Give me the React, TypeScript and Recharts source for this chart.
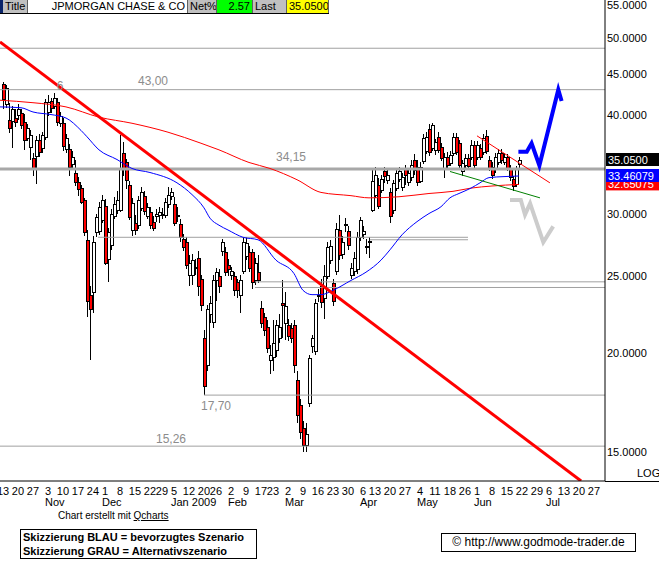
import React from 'react'
import {
  ComposedChart,
  Bar,
  Line,
  XAxis,
  YAxis,
  ReferenceLine,
  ReferenceDot,
} from 'recharts'

// daily candles, index 0 = 13 Oct 2008 (trading days only)
const opens = [
  43.7, 41.2, 39.4, 39.3, 39.6, 39.9, 40.2, 39.2, 37.4, 36.4, 35.3, 35.5, 37.2, 36.3, 37.5, 40.3, 41.6, 41.0, 41.5, 39.0,
  39.0, 36.2, 36.2, 34.6, 33.8, 32.9, 32.3, 31.2, 27.8, 23.7, 23.9, 28.4, 28.5, 29.4, 30.7, 26.3, 27.4, 29.8, 30.3, 30.3,
  35.8, 34.8, 32.6, 28.6, 29.2, 29.0, 30.5, 31.6, 29.8, 30.1, 29.3, 29.8, 29.9, 30.0, 29.9, 30.8, 31.6, 30.8, 29.8, 29.1,
  27.9, 27.6, 25.1, 25.1, 25.7, 26.4, 24.8, 20.9, 19.3, 22.4, 21.9, 24.7, 25.0, 26.9, 26.8, 25.8, 25.1, 25.0, 24.6, 23.7,
  25.4, 26.5, 26.8, 26.8, 24.7, 25.3, 22.8, 22.2, 21.6, 19.6, 19.8, 20.2, 20.9, 23.1, 21.8, 21.7, 21.5, 21.7, 18.5, 17.2,
  16.1, 15.3, 17.3, 20.4, 20.1, 23.6, 24.3, 23.5, 25.0, 26.2, 24.5, 25.4, 28.6, 26.7, 29.1, 28.5, 25.1, 25.4, 25.5, 28.0,
  28.3, 27.3, 27.6, 30.3, 31.7, 32.6, 32.1, 33.9, 33.1, 31.9, 30.3, 32.3, 33.2, 32.4, 34.1, 32.9, 33.4, 35.1, 34.3, 33.0,
  34.9, 36.0, 38.4, 36.3, 36.1, 37.5, 36.4, 34.1, 35.4, 34.7, 35.8, 37.5, 36.8, 33.9, 34.5, 35.3, 35.4, 36.6, 35.4, 36.3,
  35.9, 37.6, 35.1, 34.3, 34.1, 34.8, 35.8, 34.8, 35.4, 34.2, 33.2, 32.7, 34.6,
]
const highs = [
  44.0, 43.6, 41.4, 41.0, 40.6, 41.2, 40.6, 40.1, 38.9, 38.2, 35.8, 37.6, 37.8, 38.0, 41.9, 42.3, 42.0, 42.6, 42.0, 40.3,
  39.6, 37.8, 36.7, 36.0, 35.0, 33.4, 32.6, 31.4, 28.6, 24.3, 28.1, 30.0, 31.0, 31.7, 31.3, 28.8, 30.4, 31.5, 32.0, 37.7,
  36.9, 35.2, 33.0, 31.4, 29.9, 31.6, 32.4, 32.0, 30.9, 30.6, 29.8, 30.4, 30.6, 30.5, 31.4, 32.4, 32.3, 31.5, 30.6, 29.5,
  28.3, 28.0, 26.6, 26.7, 26.3, 26.9, 25.1, 21.4, 23.0, 23.6, 25.1, 25.6, 25.5, 27.9, 27.2, 26.3, 25.7, 25.3, 24.8, 25.1,
  28.0, 28.0, 27.3, 27.1, 26.4, 26.6, 23.3, 22.5, 22.0, 20.5, 22.0, 22.0, 22.4, 24.7, 23.9, 22.1, 21.8, 22.0, 19.0, 17.5,
  16.4, 16.3, 19.9, 21.1, 23.4, 24.1, 24.8, 25.8, 27.6, 27.8, 24.8, 29.2, 29.9, 28.1, 29.6, 28.9, 26.0, 26.8, 28.4, 29.7,
  28.9, 27.9, 28.0, 34.0, 34.3, 33.3, 33.6, 34.3, 34.0, 32.3, 33.1, 34.2, 34.3, 33.8, 34.5, 34.2, 35.1, 35.7, 35.0, 34.8,
  37.8, 38.0, 38.9, 39.0, 37.3, 38.0, 36.8, 35.8, 35.9, 36.0, 37.9, 37.9, 37.1, 35.0, 35.7, 35.7, 37.1, 37.0, 37.0, 36.7,
  37.8, 38.2, 35.5, 34.8, 35.8, 36.2, 36.2, 35.8, 35.7, 34.5, 33.5, 34.4, 35.4,
]
const lows = [
  40.7, 40.8, 37.9, 36.3, 38.6, 39.4, 38.4, 36.1, 37.0, 35.1, 33.5, 32.7, 35.4, 35.8, 37.2, 39.8, 40.2, 40.6, 38.7, 38.6,
  36.0, 35.8, 33.5, 34.0, 32.5, 31.6, 30.8, 28.1, 22.2, 19.6, 22.5, 28.0, 28.2, 29.2, 25.8, 24.6, 27.0, 29.5, 30.0, 30.1,
  33.5, 32.2, 29.4, 28.1, 28.2, 28.7, 30.2, 29.9, 29.5, 28.7, 28.5, 29.3, 29.2, 29.5, 29.6, 30.5, 31.2, 28.9, 29.3, 27.6,
  26.9, 25.5, 24.3, 24.4, 25.1, 23.6, 22.6, 17.7, 19.0, 21.8, 21.5, 23.3, 23.8, 26.5, 25.0, 25.0, 24.7, 23.6, 23.5, 22.5,
  25.2, 26.2, 25.3, 24.1, 24.4, 24.5, 21.5, 21.0, 20.0, 18.8, 19.0, 19.8, 20.6, 20.9, 20.8, 20.7, 20.6, 18.9, 16.3, 15.6,
  15.0, 15.0, 17.1, 20.0, 19.9, 23.2, 22.8, 22.1, 24.8, 25.9, 22.9, 25.1, 26.2, 26.3, 28.4, 27.0, 24.8, 25.0, 25.2, 27.7,
  27.9, 26.7, 26.4, 30.1, 31.4, 30.4, 31.8, 32.8, 32.7, 29.2, 30.0, 32.0, 32.9, 32.0, 32.6, 32.5, 33.0, 33.6, 32.5, 32.8,
  34.6, 35.7, 35.5, 36.0, 35.6, 35.8, 34.9, 33.3, 34.2, 34.4, 35.5, 35.6, 34.2, 33.5, 34.2, 34.0, 35.0, 34.2, 35.0, 35.0,
  35.6, 35.7, 33.9, 33.2, 33.8, 34.5, 34.6, 34.5, 33.9, 33.0, 32.0, 32.4, 34.0,
]
const closes = [
  41.8, 43.2, 38.5, 40.7, 39.1, 40.6, 38.8, 37.2, 38.5, 37.7, 34.1, 37.2, 35.9, 37.7, 41.5, 41.5, 40.8, 42.0, 39.1, 39.8,
  36.5, 37.4, 34.3, 35.4, 32.9, 32.2, 31.0, 28.4, 23.3, 22.7, 27.6, 29.7, 30.6, 31.2, 26.0, 28.4, 30.0, 30.8, 31.2, 34.1,
  34.1, 33.1, 29.7, 30.9, 28.6, 31.2, 31.9, 30.2, 30.6, 29.0, 28.8, 30.0, 30.1, 30.0, 31.0, 31.7, 31.9, 29.2, 29.9, 28.0,
  27.2, 25.8, 26.0, 26.2, 25.6, 24.3, 23.0, 18.2, 22.7, 23.1, 24.7, 25.3, 24.3, 27.6, 25.3, 25.5, 25.4, 24.0, 24.0, 24.7,
  27.6, 27.5, 25.6, 24.6, 26.0, 24.7, 21.8, 21.4, 20.3, 19.9, 20.6, 21.7, 21.6, 23.0, 22.9, 21.0, 20.9, 19.3, 16.7, 15.9,
  15.3, 15.8, 19.7, 20.9, 23.1, 23.7, 23.2, 25.0, 27.2, 27.3, 23.3, 28.7, 26.6, 27.6, 29.0, 27.4, 25.6, 26.4, 28.0, 29.4,
  28.5, 27.3, 27.7, 33.0, 33.6, 30.7, 33.2, 33.5, 33.6, 29.8, 32.8, 33.8, 33.9, 33.4, 33.6, 33.8, 34.5, 34.0, 32.9, 34.3,
  37.4, 37.5, 35.9, 38.8, 36.9, 36.1, 35.3, 35.4, 34.5, 35.6, 37.5, 35.9, 34.5, 34.7, 35.3, 34.4, 36.6, 34.5, 36.6, 35.4,
  37.4, 36.0, 34.2, 33.6, 35.4, 35.8, 35.0, 35.4, 34.2, 33.4, 32.5, 34.17, 35.05,
]

// moving averages (index, price)
const slowMaIdx = [-1, 10, 21, 32, 43, 55, 66, 72, 82, 89, 98, 106, 116, 122, 132, 142, 150, 156, 163, 172]
const slowMaVal = [41.7, 41.4, 40.9, 39.7, 39.0, 38.0, 36.8, 36.1, 34.8, 34.2, 33.1, 31.9, 31.6, 31.4, 31.5, 31.8, 32.0, 32.3, 32.5, 32.65]
const fastMaIdx = [-1, 6, 10, 16, 21, 26, 28, 32, 38, 43, 49, 58, 63, 67, 69, 72, 75, 80, 85, 91, 97, 100, 103, 106, 110, 116, 121, 126, 129, 133, 138, 142, 146, 149, 152, 156, 159, 162, 167, 172]
const fastMaVal = [40.9, 40.8, 40.3, 40.0, 39.6, 38.2, 37.5, 36.1, 35.1, 34.2, 33.8, 32.8, 31.7, 30.5, 29.6, 29.0, 28.6, 28.0, 27.8, 26.2, 25.2, 24.0, 23.7, 23.7, 24.0, 24.7, 25.3, 26.2, 27.0, 28.2, 29.3, 30.0, 30.6, 31.4, 31.8, 32.3, 32.8, 33.3, 33.4, 33.46]

// scenario sketches
const blueIdx = [171.8, 174.6, 176.2, 178.8, 185.1, 186.2]
const blueVal = [35.9, 35.9, 36.8, 34.5, 43.0, 41.6]
const grayIdx = [169, 172.6, 174, 175.7, 180.1, 183.4]
const grayVal = [31.2, 31.2, 29.9, 30.9, 27.6, 28.9]

// horizontal marks
const X_MIN = -1
const X_MAX = 200.67
const levelVal = [48.5, 43.0, 28.0, 27.8, 24.6, 24.2, 17.7, 15.26]
const levelFrom = [X_MIN, X_MIN, 31.7, 122.3, 84, 84, 67, X_MIN]
const levelTo = [X_MAX, X_MAX, 155, 155, X_MAX, X_MAX, X_MAX, X_MAX]
const pivotLevel = 34.15

const labelText = ['43,00', '34,15', '17,70', '15,26', '6']
const labelIdx = [50, 96, 71, 56, 19]
const labelVal = [43.0, 34.15, 17.7, 15.26, 43.0]
const labelDy = [-5, -8, 15, -3, 0]

// trend lines [i1, p1, i2, p2]
const mainTrend = [-1, 49.4, 192.7, 13.79]
const upperTrend = [158, 37.6, 182.3, 32.8]
const lowerTrend = [149, 33.9, 179, 31.4]

// axis
const weekIdx = [0, 5, 10, 15, 20, 25, 30, 34, 39, 44, 49, 53, 57, 62, 67, 71, 76, 81, 86, 90, 95, 100, 105, 110, 115, 120, 124, 129, 134, 139, 144, 149, 154, 158, 163, 168, 173, 178, 182, 187, 192, 197]
const weekDay = ['13', '20', '27', '3', '10', '17', '24', '1', '8', '15', '22', '29', '5', '12', '20', '26', '2', '9', '17', '23', '2', '9', '16', '23', '30', '6', '13', '20', '27', '4', '11', '18', '26', '1', '8', '15', '22', '29', '6', '13', '20', '27']
const monthIdx = [15, 34, 57, 76, 95, 120, 139, 158, 182]
const monthName = ['Nov', 'Dec', 'Jan 2009', 'Feb', 'Mar', 'Apr', 'May', 'Jun', 'Jul']
const priceTicks = [15, 20, 25, 30, 40, 45, 50, 55]

const lastClose = 35.05
const fastLast = 33.46079
const slowLast = 32.65075

const FONT = '"Liberation Sans", Arial, sans-serif'

const candles = closes.map((c, i) => ({
  i,
  o: opens[i],
  h: highs[i],
  l: lows[i],
  c,
  range: [lows[i], highs[i]],
}))
const slowMa = slowMaIdx.map((i, k) => ({ i, v: slowMaVal[k] }))
const fastMa = fastMaIdx.map((i, k) => ({ i, v: fastMaVal[k] }))
const blueSketch = blueIdx.map((i, k) => ({ i, v: blueVal[k] }))
const graySketch = grayIdx.map((i, k) => ({ i, v: grayVal[k] }))

const Candle = (props: any) => {
  const { x, y, width, height, payload } = props
  if (!payload || height == null) return null
  const { o, h, l, c } = payload
  const top = Math.min(y, y + height)
  const hgt = Math.abs(height)
  const lh = Math.log(h)
  const span = lh - Math.log(l) || 1
  const py = (v: number) => top + ((lh - Math.log(v)) / span) * hgt
  const cx = Math.round(x + width / 2)
  const b1 = Math.round(Math.min(py(o), py(c)))
  const b2 = Math.round(Math.max(py(o), py(c)))
  return (
    <g shapeRendering="crispEdges">
      <line x1={cx + 0.5} x2={cx + 0.5} y1={top} y2={top + hgt} stroke="#000" />
      <rect
        x={cx - 0.5}
        y={b1 + 0.5}
        width={3}
        height={Math.max(1, b2 - b1)}
        fill={c < o ? '#ff0000' : '#ffffff'}
        stroke="#000"
      />
    </g>
  )
}

const DateTick = ({ x, y, payload }: any) => {
  const k = weekIdx.indexOf(payload.value)
  const m = monthIdx.indexOf(payload.value)
  return (
    <g fontFamily={FONT} fontSize={11} fill="#000">
      <text x={x} y={y + 14} textAnchor="middle">{weekDay[k]}</text>
      {m >= 0 && (
        <text x={x - 3} y={y + 25} textAnchor="start">{monthName[m]}</text>
      )}
    </g>
  )
}

const PriceTick = ({ x, y, payload }: any) => (
  <text x={x} y={y + 4} fontFamily={FONT} fontSize={11} fill="#000" textAnchor="start">
    {payload.value.toFixed(4)}
  </text>
)

const valueBox = (text: string, bg: string) => (p: any) => (
  <g>
    <rect x={p.cx + 1} y={p.cy - 7} width={54} height={13} fill={bg} />
    <text x={p.cx + 3} y={p.cy + 4} fontFamily={FONT} fontSize={11} fill="#fff">{text}</text>
  </g>
)

const levelLabel = (text: string, dy: number) => (p: any) => (
  <text x={p.cx} y={p.cy + dy} textAnchor="middle" fontFamily={FONT} fontSize={12} fill="#8c8c8c">
    {text}
  </text>
)

const headerCell = (w: number, bg: string, text: string, align: 'left' | 'right') => (
  <div
    style={{
      width: w,
      height: 13,
      background: bg,
      textAlign: align,
      fontSize: 11,
      lineHeight: '13px',
      padding: '0 2px',
      boxSizing: 'border-box',
      borderRight: '1px solid #606060',
      whiteSpace: 'nowrap',
      overflow: 'hidden',
    }}
  >
    {text}
  </div>
)

export default function App() {
  return (
    <div
      style={{
        position: 'absolute',
        left: 0,
        top: 0,
        width: 659,
        height: 563,
        background: '#fff',
        fontFamily: FONT,
        overflow: 'hidden',
      }}
    >
      <ComposedChart
        width={659}
        height={515}
        data={candles}
        margin={{ top: 0, right: 0, bottom: 0, left: 0 }}
      >
        <XAxis
          dataKey="i"
          type="number"
          domain={[X_MIN, X_MAX]}
          allowDataOverflow
          ticks={weekIdx}
          interval={0}
          tick={<DateTick />}
          tickLine={false}
          tickSize={0}
          tickMargin={0}
          height={34}
          axisLine={{ stroke: '#000' }}
        />
        <YAxis
          orientation="right"
          scale="log"
          domain={[13.79, 55.8]}
          allowDataOverflow
          ticks={priceTicks}
          interval={0}
          tick={<PriceTick />}
          tickLine={false}
          tickSize={0}
          tickMargin={2}
          width={54}
          axisLine={{ stroke: '#000' }}
        />

        {levelVal.map((v, k) => (
          <ReferenceLine
            key={'lv' + k}
            segment={[{ x: levelFrom[k], y: v }, { x: levelTo[k], y: v }]}
            stroke="#a0a0a0"
            strokeWidth={1}
            ifOverflow="hidden"
          />
        ))}
        <ReferenceLine y={pivotLevel} stroke="#a8a8a8" strokeWidth={3} ifOverflow="hidden" />

        <Bar dataKey="range" barSize={4} shape={(p: any) => <Candle {...p} />} isAnimationActive={false} />

        <Line data={slowMa} dataKey="v" type="monotone" stroke="#ff0000" strokeWidth={1} dot={false} isAnimationActive={false} />
        <Line data={fastMa} dataKey="v" type="monotone" stroke="#0000ff" strokeWidth={1} dot={false} isAnimationActive={false} />

        <ReferenceLine
          segment={[{ x: mainTrend[0], y: mainTrend[1] }, { x: mainTrend[2], y: mainTrend[3] }]}
          stroke="#ff0000"
          strokeWidth={3}
          ifOverflow="hidden"
        />
        <ReferenceLine
          segment={[{ x: upperTrend[0], y: upperTrend[1] }, { x: upperTrend[2], y: upperTrend[3] }]}
          stroke="#ff0000"
          strokeWidth={1}
          ifOverflow="hidden"
        />
        <ReferenceLine
          segment={[{ x: lowerTrend[0], y: lowerTrend[1] }, { x: lowerTrend[2], y: lowerTrend[3] }]}
          stroke="#008000"
          strokeWidth={1}
          ifOverflow="hidden"
        />

        <Line data={graySketch} dataKey="v" type="linear" stroke="#cccccc" strokeWidth={4} dot={false} isAnimationActive={false} />
        <Line data={blueSketch} dataKey="v" type="linear" stroke="#0000ff" strokeWidth={4} dot={false} isAnimationActive={false} />

        {labelText.map((t, k) => (
          <ReferenceDot
            key={'lb' + k}
            x={labelIdx[k]}
            y={labelVal[k]}
            r={1}
            ifOverflow="visible"
            shape={levelLabel(t, labelDy[k])}
          />
        ))}

        <ReferenceDot x={X_MAX} y={slowLast} r={1} ifOverflow="visible" shape={valueBox(slowLast.toFixed(5), '#ff0000')} />
        <ReferenceDot x={X_MAX} y={fastLast} r={1} ifOverflow="visible" shape={valueBox(fastLast.toFixed(5), '#0000ff')} />
        <ReferenceDot x={X_MAX} y={lastClose} r={1} ifOverflow="visible" shape={valueBox(lastClose.toFixed(4), '#000000')} />
      </ComposedChart>

      {/* header strip */}
      <div style={{ position: 'absolute', left: 0, top: 0, display: 'flex', borderBottom: '1px solid #000' }}>
        <div style={{ width: 3, height: 13, background: '#0a246a' }} />
        {headerCell(25, '#c0c0c0', 'Title', 'left')}
        {headerCell(160, '#ffffff', 'JPMORGAN CHASE & CO', 'right')}
        {headerCell(29, '#c0c0c0', 'Net%', 'left')}
        {headerCell(36, '#00ff00', '2.57', 'right')}
        {headerCell(34, '#c0c0c0', 'Last', 'left')}
        {headerCell(42, '#ffff00', '35.0500', 'right')}
      </div>

      <div style={{ position: 'absolute', left: 605, top: 481, width: 54, height: 1, background: '#000' }} />
      <div style={{ position: 'absolute', left: 637, top: 467, fontSize: 11 }}>LOG</div>

      <div style={{ position: 'absolute', left: 58, top: 510, fontSize: 10, lineHeight: '12px' }}>
        Chart erstellt mit <span style={{ textDecoration: 'underline' }}>Qcharts</span>
      </div>
      <div
        style={{
          position: 'absolute',
          left: 20,
          top: 529,
          width: 237,
          height: 30,
          border: '1px solid #000',
          boxSizing: 'border-box',
          fontSize: 11,
          fontWeight: 'bold',
          lineHeight: '14px',
          padding: '0 2px',
        }}
      >
        <div>Skizzierung BLAU = bevorzugtes Szenario</div>
        <div>Skizzierung GRAU = Alternativszenario</div>
      </div>
      <div
        style={{
          position: 'absolute',
          left: 441,
          top: 533,
          width: 195,
          height: 19,
          border: '1px solid #000',
          boxSizing: 'border-box',
          fontSize: 12,
          lineHeight: '17px',
          textAlign: 'center',
        }}
      >
        © http://www.godmode-trader.de
      </div>
    </div>
  )
}
